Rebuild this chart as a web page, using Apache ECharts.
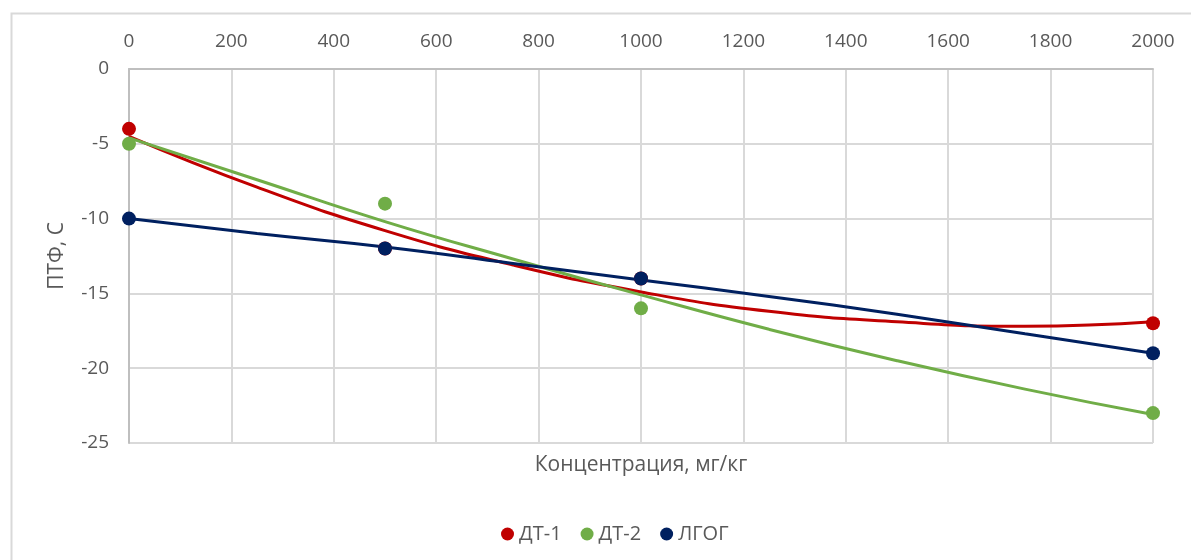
<!DOCTYPE html>
<html>
<head>
<meta charset="utf-8">
<script src="https://cdn.jsdelivr.net/npm/echarts@6/dist/echarts.min.js"></script>
<style>
  html, body { margin: 0; padding: 0; background: #ffffff; }
  #chart { width: 1191px; height: 560px; }
</style>
</head>
<body>
<div id="chart"></div>
<script>
// Concentration of additive, mg/kg
var concentrations = [0, 500, 1000, 2000];

// Measured ПТФ values for each fuel
var dt1Values = [-4, -12, -14, -17];
var dt2Values = [-5, -9, -16, -23];
var lgogValues = [-10, -12, -14, -19];

// Polynomial trend curves, sampled along the concentration axis
var trendX = [0, 250, 500, 750, 1000, 1250, 1500, 1750, 2000];
var dt1Trend = [-4.5, -7.9, -10.8, -13.1, -14.9, -16.2, -16.9, -17.2, -16.9];
var dt2Trend = [-4.6, -7.4, -10.2, -12.7, -15.1, -17.4, -19.5, -21.4, -23.1];
var lgogTrend = [-10.0, -11.0, -11.9, -13.0, -14.1, -15.2, -16.4, -17.7, -19.0];

var seriesNames = ['ДТ-1', 'ДТ-2', 'ЛГОГ'];
var seriesColors = ['#C00000', '#70AD47', '#002060'];

var FONT = '"Open Sans"';
var TEXT_COLOR = '#595959';
var TICK_SIZE = 19;
var TITLE_SIZE = 21;
var LEGEND_SIZE = 20;

function pairs(xs, ys) {
  return xs.map(function (x, i) { return [x, ys[i]]; });
}

var pointSets = [dt1Values, dt2Values, lgogValues];
var trendSets = [dt1Trend, dt2Trend, lgogTrend];

var series = [];
trendSets.forEach(function (ys, i) {
  series.push({
    name: seriesNames[i] + ' trend',
    type: 'line',
    data: pairs(trendX, ys),
    smooth: 0.5,
    showSymbol: false,
    silent: true,
    z: 2,
    lineStyle: { color: seriesColors[i], width: 3 }
  });
});
pointSets.forEach(function (ys, i) {
  series.push({
    name: seriesNames[i],
    type: 'scatter',
    data: pairs(concentrations, ys),
    symbol: 'circle',
    symbolSize: 14,
    z: 3 + i,
    itemStyle: { color: seriesColors[i], opacity: 1 }
  });
});

var chart = echarts.init(document.getElementById('chart'), null, { renderer: 'canvas' });
chart.setOption({
  animation: false,
  backgroundColor: '#ffffff',
  textStyle: { fontFamily: FONT },
  grid: { left: 129, right: 38, top: 69, bottom: 117, containLabel: false },
  xAxis: {
    type: 'value',
    position: 'top',
    min: 0,
    max: 2000,
    interval: 200,
    axisLine: { show: true, onZero: false, lineStyle: { color: '#bfbfbf', width: 2 } },
    axisTick: { show: false },
    axisLabel: {
      color: TEXT_COLOR, fontSize: TICK_SIZE, fontFamily: FONT, margin: 18,
      formatter: function (v) { return String(v); }
    },
    splitLine: { show: true, lineStyle: { color: '#d9d9d9', width: 2 } }
  },
  yAxis: {
    type: 'value',
    min: -25,
    max: 0,
    interval: 5,
    axisLine: { show: true, onZero: false, lineStyle: { color: '#bfbfbf', width: 2 } },
    axisTick: { show: false },
    axisLabel: { color: TEXT_COLOR, fontSize: TICK_SIZE, fontFamily: FONT, margin: 20 },
    splitLine: { show: true, lineStyle: { color: '#d9d9d9', width: 2 } }
  },
  legend: {
    data: seriesNames,
    left: 496,
    top: 519,
    icon: 'circle',
    itemWidth: 13,
    itemHeight: 13,
    itemGap: 19,
    textStyle: { color: TEXT_COLOR, fontSize: LEGEND_SIZE, fontFamily: FONT }
  },
  graphic: [
    {
      type: 'rect',
      left: 9,
      top: 11,
      silent: true,
      shape: { width: 1300, height: 700 },
      style: { fill: null, stroke: '#d9d9d9', lineWidth: 2 },
      z: -10
    },
    {
      type: 'text',
      x: 641,
      y: 465,
      style: {
        text: 'Концентрация, мг/кг',
        fill: TEXT_COLOR,
        font: TITLE_SIZE + 'px ' + FONT,
        align: 'center',
        verticalAlign: 'middle'
      }
    },
    {
      type: 'text',
      x: 57,
      y: 256,
      rotation: Math.PI / 2,
      style: {
        text: 'ПТФ, С',
        fill: TEXT_COLOR,
        font: TITLE_SIZE + 'px ' + FONT,
        align: 'center',
        verticalAlign: 'middle'
      }
    }
  ],
  series: series
});
</script>
</body>
</html>
